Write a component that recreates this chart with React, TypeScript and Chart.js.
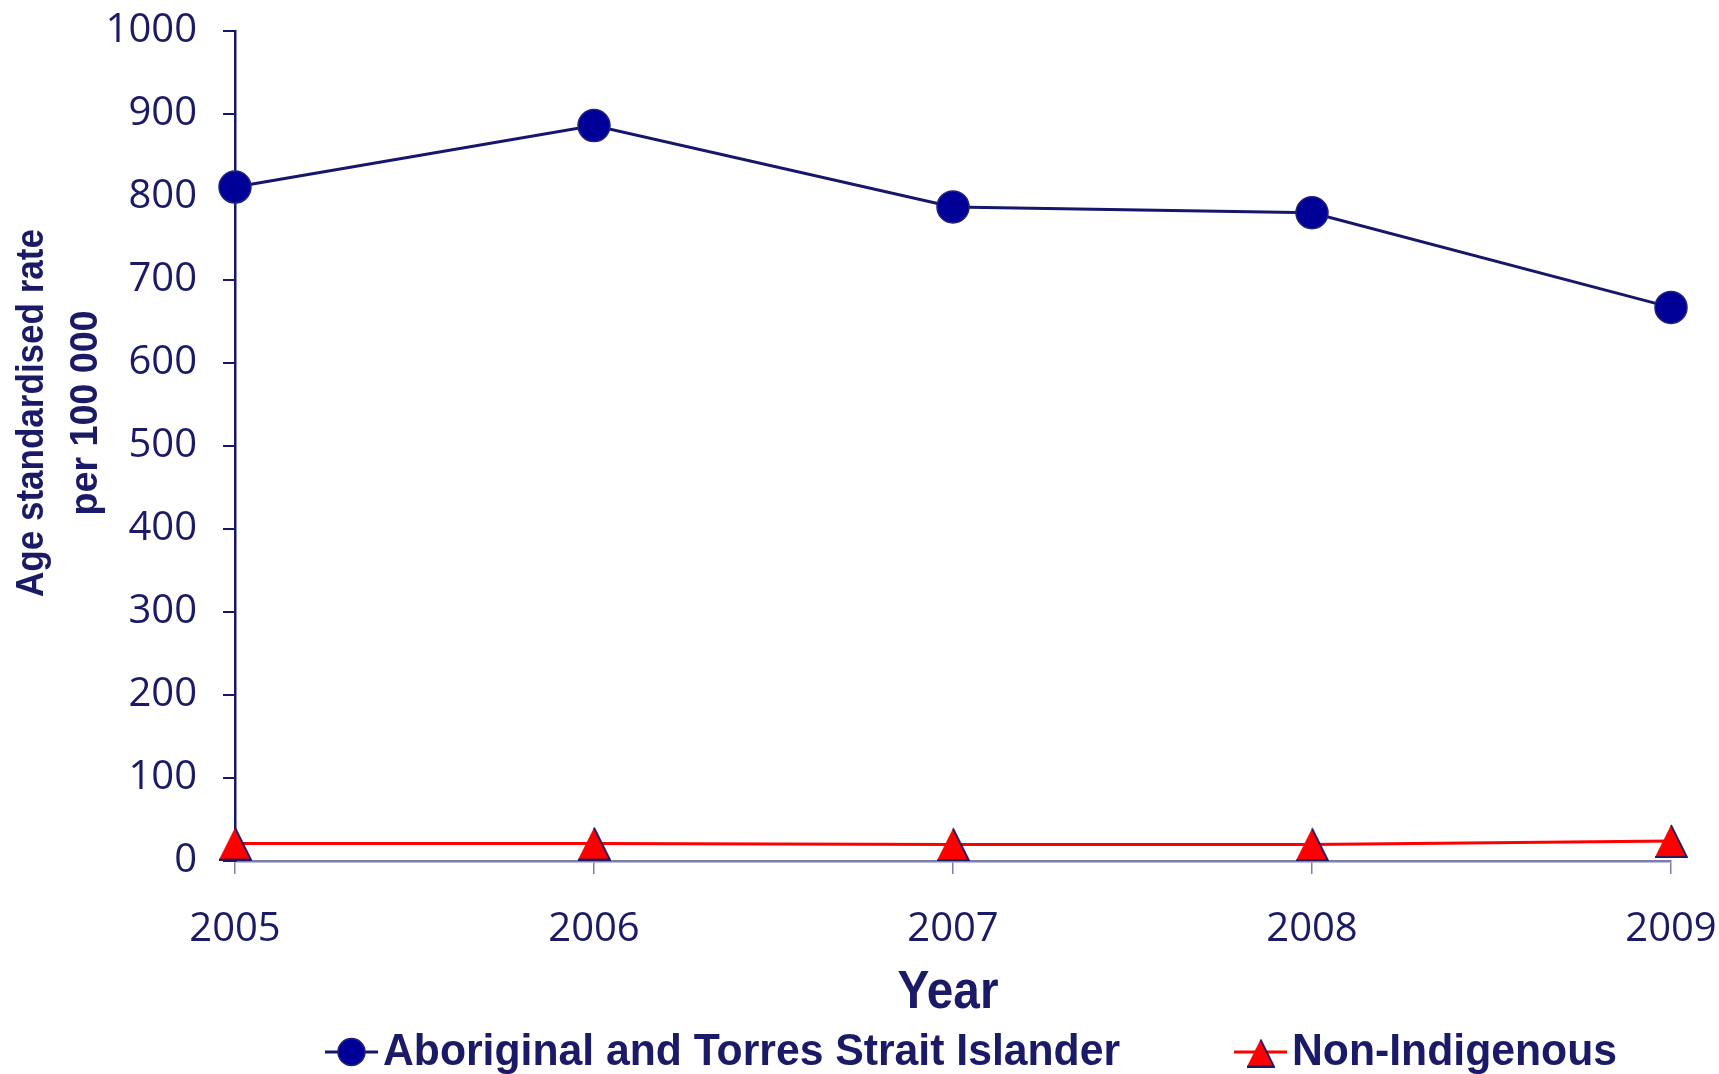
import React, { useEffect, useRef } from "react";
import { Chart, registerables } from "chart.js";

Chart.register(...registerables);

// ---- data ----
const years = ["2005", "2006", "2007", "2008", "2009"];
const aboriginal = [812, 886, 788, 781, 667];
const nonIndigenous = [21, 21, 20, 20, 24];
const seriesNames = ["Aboriginal and Torres Strait Islander", "Non-Indigenous"];
const yTitleLines = ["Age standardised rate", "per 100 000"];
const xTitle = "Year";
const yMin = 0;
const yMax = 1000;
const yStep = 100;

// ---- styles ----
const W = 1719;
const H = 1074;
const TEXT = "#1b1a66";
const NAVY_LINE = "#16166b";
const NAVY_FILL = "#000099";
const RED = "#ff0000";
const TICK_FONT = "'Open Sans', 'DejaVu Sans', sans-serif";
const BOLD_FONT = "'Liberation Sans', Arial, sans-serif";

function makeTriangle(size: number): HTMLCanvasElement {
  const c = document.createElement("canvas");
  c.width = size + 2;
  c.height = size + 2;
  const g = c.getContext("2d")!;
  const x0 = 1, y0 = 1, s = size;
  g.beginPath();
  g.moveTo(x0 + s / 2, y0);
  g.lineTo(x0 + s, y0 + s);
  g.lineTo(x0, y0 + s);
  g.closePath();
  g.fillStyle = RED;
  g.fill();
  // dark edge on right side and base (as in the original rendering)
  g.beginPath();
  g.moveTo(x0 + s / 2, y0);
  g.lineTo(x0 + s, y0 + s);
  g.lineTo(x0, y0 + s);
  g.lineWidth = 1.8;
  g.strokeStyle = "#1b1a66";
  g.stroke();
  return c;
}

const overlayPlugin = {
  id: "overlay",
  afterDraw(chart: any) {
    const ctx: CanvasRenderingContext2D = chart.ctx;
    const ca = chart.chartArea;
    ctx.save();
    ctx.fillStyle = TEXT;
    ctx.textAlign = "center";
    ctx.textBaseline = "alphabetic";

    // y-axis title (two rotated lines)
    ctx.font = `bold 39px ${BOLD_FONT}`;
    const titleCy = 413;
    const baselineXs = [43, 97];
    const maxWs = [368, 205];
    yTitleLines.forEach((t, i) => {
      ctx.save();
      ctx.translate(baselineXs[i], titleCy);
      ctx.rotate(-Math.PI / 2);
      ctx.fillText(t, 0, 0, maxWs[i]);
      ctx.restore();
    });

    // x-axis title
    ctx.font = `bold 54px ${BOLD_FONT}`;
    ctx.fillText(xTitle, (ca.left + ca.right) / 2 - 5, 1008, 101);

    // legend
    ctx.font = `bold 45px ${BOLD_FONT}`;
    ctx.textAlign = "left";
    const legendLineY = 1052;
    const textBaseY = 1065;
    const lineStarts = [325, 1234];
    const textMaxW = [737, 325];
    const lineLen = 53;
    const legendTri = makeTriangle(27);
    chart.data.datasets.forEach((ds: any, i: number) => {
      const x0 = lineStarts[i];
      ctx.beginPath();
      ctx.moveTo(x0, legendLineY);
      ctx.lineTo(x0 + lineLen, legendLineY);
      ctx.lineWidth = ds.borderWidth;
      ctx.strokeStyle = ds.borderColor;
      ctx.stroke();
      const cx = x0 + lineLen / 2;
      if (i === 1) {
        ctx.drawImage(legendTri, cx - legendTri.width / 2, legendLineY - legendTri.height / 2 + 1);
      } else {
        ctx.beginPath();
        ctx.arc(cx, legendLineY, 13.5, 0, Math.PI * 2);
        ctx.fillStyle = ds.pointBackgroundColor;
        ctx.fill();
        ctx.lineWidth = ds.pointBorderWidth;
        ctx.strokeStyle = ds.pointBorderColor;
        ctx.stroke();
      }
      ctx.fillStyle = TEXT;
      ctx.fillText(ds.label, x0 + lineLen + 5, textBaseY, textMaxW[i]);
    });
    ctx.restore();
  },
};

export default function App() {
  const ref = useRef<HTMLCanvasElement | null>(null);

  useEffect(() => {
    if (!ref.current) return;
    const tri = makeTriangle(32);
    const chart = new Chart(ref.current, {
      type: "line",
      data: {
        labels: years,
        datasets: [
          {
            label: seriesNames[0],
            data: aboriginal,
            borderColor: NAVY_LINE,
            borderWidth: 3,
            pointStyle: "circle",
            pointRadius: 16,
            pointHoverRadius: 16,
            pointBackgroundColor: NAVY_FILL,
            pointBorderColor: "#22227a",
            pointBorderWidth: 1.5,
            tension: 0,
            clip: false,
          } as any,
          {
            label: seriesNames[1],
            data: nonIndigenous,
            borderColor: RED,
            borderWidth: 3,
            pointStyle: tri,
            pointRadius: 16,
            pointHoverRadius: 16,
            pointBackgroundColor: RED,
            pointBorderColor: "#1b1a66",
            pointBorderWidth: 2,
            tension: 0,
            clip: false,
          } as any,
        ],
      },
      options: {
        animation: false,
        responsive: false,
        devicePixelRatio: 1,
        layout: {
          padding: { left: 0, right: 48, top: 31, bottom: 0 },
        },
        plugins: {
          legend: { display: false },
          tooltip: { enabled: false },
          title: { display: false },
        },
        scales: {
          x: {
            type: "category",
            offset: false,
            grid: {
              display: true,
              drawOnChartArea: false,
              drawTicks: true,
              tickLength: 13,
              color: "#7d7db0",
              lineWidth: 1.5,
            },
            border: { display: true, color: "#7d7db0", width: 2.5 },
            ticks: {
              color: TEXT,
              font: { family: TICK_FONT, size: 40 },
              padding: 32,
              maxRotation: 0,
              autoSkip: false,
            },
            afterFit: (scale: any) => {
              scale.height = 213;
              scale.paddingLeft = 0;
              scale.paddingRight = 0;
            },
          },
          y: {
            type: "linear",
            min: yMin,
            max: yMax,
            ticks: {
              stepSize: yStep,
              color: TEXT,
              font: { family: TICK_FONT, size: 40 },
              padding: 26,
              callback: (v: any) => String(v),
            },
            grid: {
              display: true,
              drawOnChartArea: false,
              drawTicks: true,
              tickLength: 12,
              color: NAVY_LINE,
              lineWidth: 2,
            },
            border: { display: true, color: NAVY_LINE, width: 2.5 },
            afterFit: (scale: any) => {
              scale.width = 235;
              scale.paddingTop = 0;
              scale.paddingBottom = 0;
            },
          },
        },
      },
      plugins: [overlayPlugin],
    });
    return () => chart.destroy();
  }, []);

  return (
    <div style={{ position: "fixed", left: 0, top: 0, width: W, height: H, background: "#fff" }}>
      <canvas ref={ref} width={W} height={H} style={{ width: W, height: H, display: "block" }} />
    </div>
  );
}
